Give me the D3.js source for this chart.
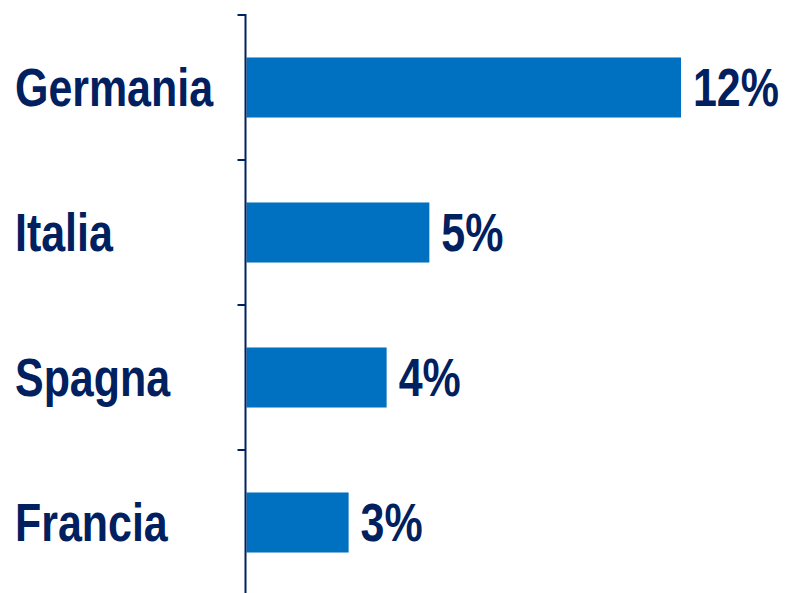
<!DOCTYPE html>
<html>
<head>
<meta charset="utf-8">
<script src="https://cdn.jsdelivr.net/npm/d3@7"></script>
<style>
  html, body { margin: 0; padding: 0; background: #fff; }
</style>
</head>
<body>
<svg id="chart"></svg>
<script>
const PAESI = ["Germania", "Italia", "Spagna", "Francia"];
const VALORI = [12.0, 5.05, 3.87, 2.82];
const ETICHETTE = ["12%", "5%", "4%", "3%"];

var width = 785, height = 593;
var margin = {top: 15, left: 245.5};
var font = "'Liberation Sans', Arial, sans-serif";
// no narrow face installed, so squeeze the bold face horizontally
var narrow = 0.81;

var svg = d3.select("#chart")
  .attr("width", width)
  .attr("height", height);

// each band is 145px, the 5th one runs off the bottom
var y = d3.scaleBand()
  .domain(PAESI)
  .range([margin.top, margin.top + 145 * PAESI.length])
  .paddingInner(0.586)
  .paddingOuter(0.293);

var x = d3.scaleLinear()
  .domain([0, 12])
  .range([margin.left + 1, margin.left + 1 + 434.5]);

var data = PAESI.map(function(p, i) {
  return {paese: p, valore: VALORI[i], etichetta: ETICHETTE[i]};
});

/********* bars *********/
svg.selectAll("rect.bar")
  .data(data)
  .enter()
  .append("rect")
    .attr("class", "bar")
    .attr("x", x(0))
    .attr("y", function(d) { return y(d.paese); })
    .attr("width", function(d) { return x(d.valore) - x(0); })
    .attr("height", y.bandwidth())
    .style("fill", "#0070C0");

/********* axis with ticks at the band edges *********/
var edges = PAESI.map(function(p) { return y(p) - y.step() * y.paddingOuter(); });
var ax = svg.append("g");
ax.append("line")
  .attr("x1", margin.left).attr("x2", margin.left)
  .attr("y1", margin.top - 1).attr("y2", height)
  .attr("stroke", "#002060")
  .attr("stroke-width", 2);
ax.selectAll("line.tick")
  .data(edges)
  .enter()
  .append("line")
    .attr("class", "tick")
    .attr("x1", margin.left - 8).attr("x2", margin.left)
    .attr("y1", function(d) { return d; })
    .attr("y2", function(d) { return d; })
    .attr("stroke", "#002060")
    .attr("stroke-width", 2);

function label(sel) {
  sel.attr("x", 0).attr("y", 0)
    .attr("dy", "0.35em")
    .style("font-family", font)
    .style("font-weight", "bold")
    .style("font-size", "53px")
    .style("fill", "#002060");
}

/********* category labels *********/
svg.selectAll("text.cat")
  .data(data)
  .enter()
  .append("text")
    .attr("class", "cat")
    .call(label)
    .attr("transform", function(d) {
      return "translate(15," + (y(d.paese) + y.bandwidth() / 2) + ") scale(" + narrow + ",1)";
    })
    .text(function(d) { return d.paese; });

/********* value labels *********/
svg.selectAll("text.val")
  .data(data)
  .enter()
  .append("text")
    .attr("class", "val")
    .call(label)
    .attr("transform", function(d) {
      return "translate(" + (x(d.valore) + 12) + "," + (y(d.paese) + y.bandwidth() / 2) + ") scale(" + narrow + ",1)";
    })
    .text(function(d) { return d.etichetta; });
</script>
</body>
</html>
